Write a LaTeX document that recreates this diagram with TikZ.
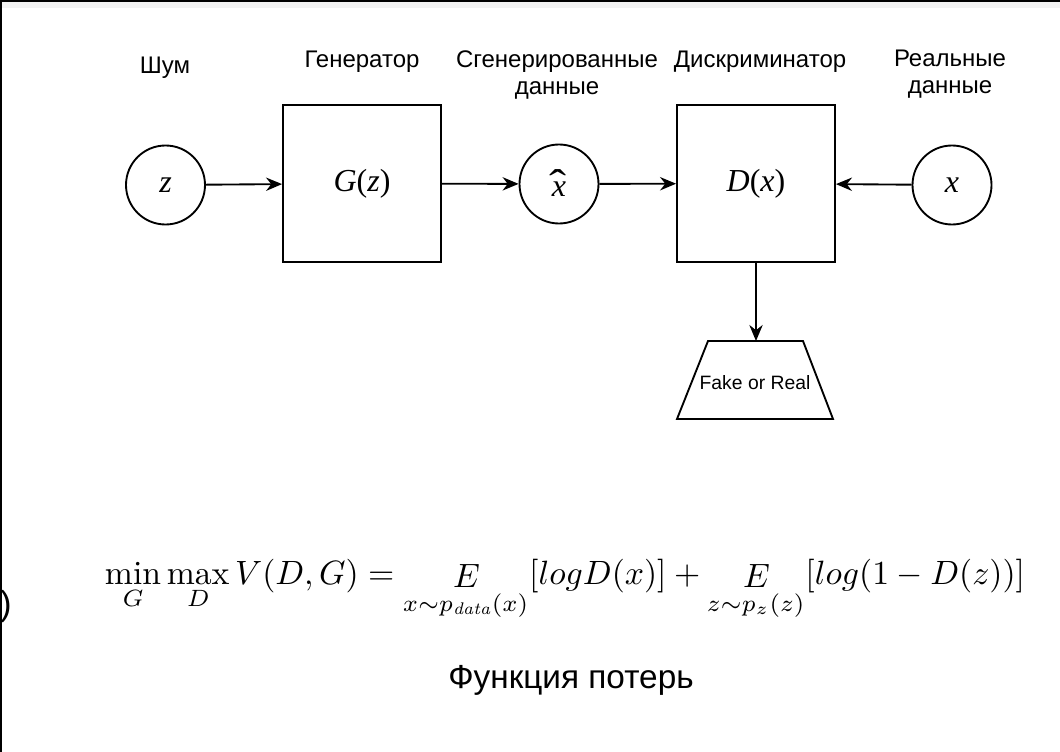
\documentclass[tikz,border=0pt]{standalone}
\usepackage{fontspec}
\usepackage{graphicx}
\usetikzlibrary{arrows.meta}
\newfontfamily\lsans{Liberation Sans}
\newfontfamily\lserif{Liberation Serif}
\begin{document}
\begin{tikzpicture}[x=0.75pt,y=-0.75pt,
  lbl/.style={font=\lsans\fontsize{18}{20.25}\selectfont, align=center, inner sep=0pt},
  var/.style={circle, draw, line width=1.4pt, minimum size=59.25pt, inner sep=0pt, font=\lserif\itshape\fontsize{24}{26}\selectfont},
  blk/.style={rectangle, draw, line width=1.4pt, minimum width=118.5pt, minimum height=117.75pt, inner sep=0pt, font=\lserif\fontsize{24}{26}\selectfont},
  conn/.style={-{Stealth[length=12pt,width=10pt]}, line width=1.4pt}]
\useasboundingbox (0,0) rectangle (1060,752);
\fill[white] (0,0) rectangle (1060,752);
% frame remnants
\fill[black!5] (0,2) rectangle (1060,8);
\draw[line width=1.5pt] (0,1) -- (1060,1);
\draw[line width=1.5pt] (1,0) -- (1,752);

% labels
\node[lbl] (l1) at (165,68) {Шум};
\node[lbl] (l2) at (362,62) {Генератор};
\node[lbl] (l3) at (557,75) {Сгенерированные\\данные};
\node[lbl] (l4) at (760,62) {Дискриминатор};
\node[lbl] (l5) at (950,74.5) {Реальные\\данные};

% nodes
\node[var] (z) at (165.5,185) {z};
\node[blk] (G) at (362,183.5) {\textit{G}(\textit{z})};
\node[var] (xh) at (559,184) {\makebox[0pt][l]{\hspace{-2pt}\raisebox{-1.5pt}{\scalebox{1.6}[1.3]{\upshape\addfontfeature{FakeBold=0}ˆ}}}x};
\node[blk] (D) at (756,183.5) {\textit{D}(\textit{x})};
\node[var] (x) at (952,185) {x};

% trapezoid
\draw[line width=1.4pt, line join=miter] (708,341) -- (803,341) -- (833,419) -- (677,419) -- cycle;
\coordinate (ft) at (756,341);
\node[font=\lsans\fontsize{14.5}{17}\selectfont, inner sep=0pt] (fr) at (755,383) {Fake or Real};

% connectors
\draw[conn] (z) -- (G);
\draw[conn] (G) -- (xh);
\draw[conn] (xh) -- (D);
\draw[conn] (x) -- (D);
\draw[conn] (D) -- (ft);

% formula
\node[inner sep=0pt] (f) at (565,590) {\resizebox{690pt}{!}{$\displaystyle \min_G \max_D V(D,G) = \mathop{E}_{x\sim p_{\mathit{data}}(x)}[logD(x)] + \mathop{E}_{z\sim p_z(z)}[log(1-D(z))]$}};
\node[font=\lsans\fontsize{26}{30}\selectfont, anchor=east, inner sep=0pt] (p) at (12,607) {)};

% caption
\node[font=\lsans\fontsize{25}{29}\selectfont, inner sep=0pt] (cap) at (571,680) {Функция потерь};
\end{tikzpicture}
\end{document}
